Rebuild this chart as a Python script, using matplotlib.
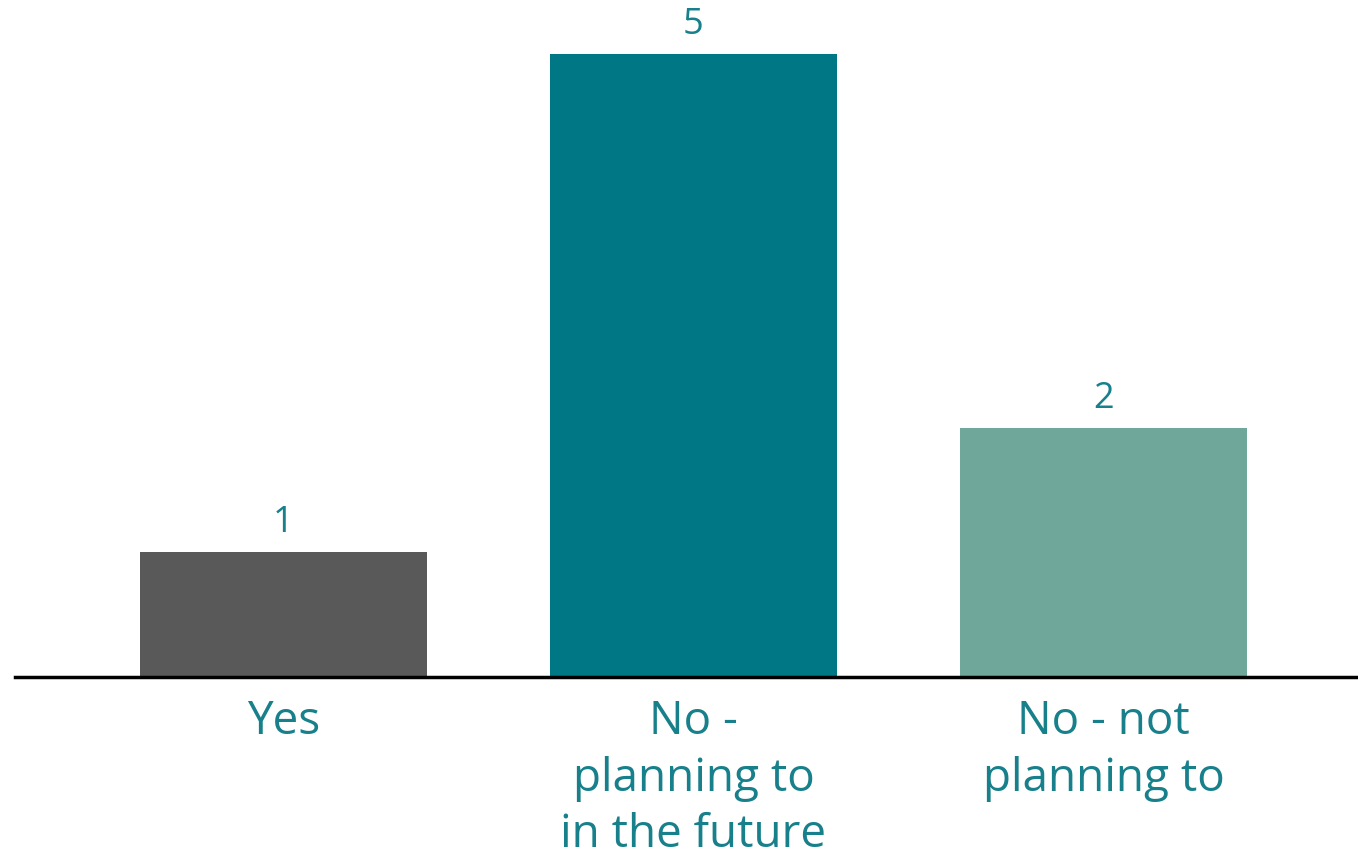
import matplotlib
matplotlib.use("Agg")
import matplotlib.pyplot as plt

categories = ["Yes", "No -\nplanning to\nin the future", "No - not\nplanning to"]
counts = [1, 5, 2]
bar_colors = ["#595959", "#007784", "#6fa89a"]
text_color = "#17808b"

plt.rcParams["font.family"] = ["Open Sans", "DejaVu Sans"]

fig = plt.figure(figsize=(13.58, 8.59), dpi=100)
ax = fig.add_axes([15 / 1358, 182 / 859, 1 - 15 / 1358, 660 / 859])

x = range(len(categories))
bars = ax.bar(x, counts, width=0.7, color=bar_colors)
ax.set_xlim(-0.654, 2.62)
ax.set_ylim(0, 5.3)

for rect, val in zip(bars, counts):
    ax.annotate(str(val), (rect.get_x() + rect.get_width() / 2, val),
                xytext=(0, 8), textcoords="offset points",
                ha="center", va="bottom", fontsize=26, color=text_color)

ax.set_xticks(list(x))
ax.set_xticklabels(categories, fontsize=33, color=text_color)
for lbl in ax.get_xticklabels():
    lbl.set_linespacing(1.3)
ax.tick_params(axis="x", length=0, pad=16)
ax.set_yticks([])
for side in ["top", "right", "left"]:
    ax.spines[side].set_visible(False)
ax.spines["bottom"].set_linewidth(2.5)
ax.spines["bottom"].set_color("black")

fig.savefig("out.png", dpi=100)
